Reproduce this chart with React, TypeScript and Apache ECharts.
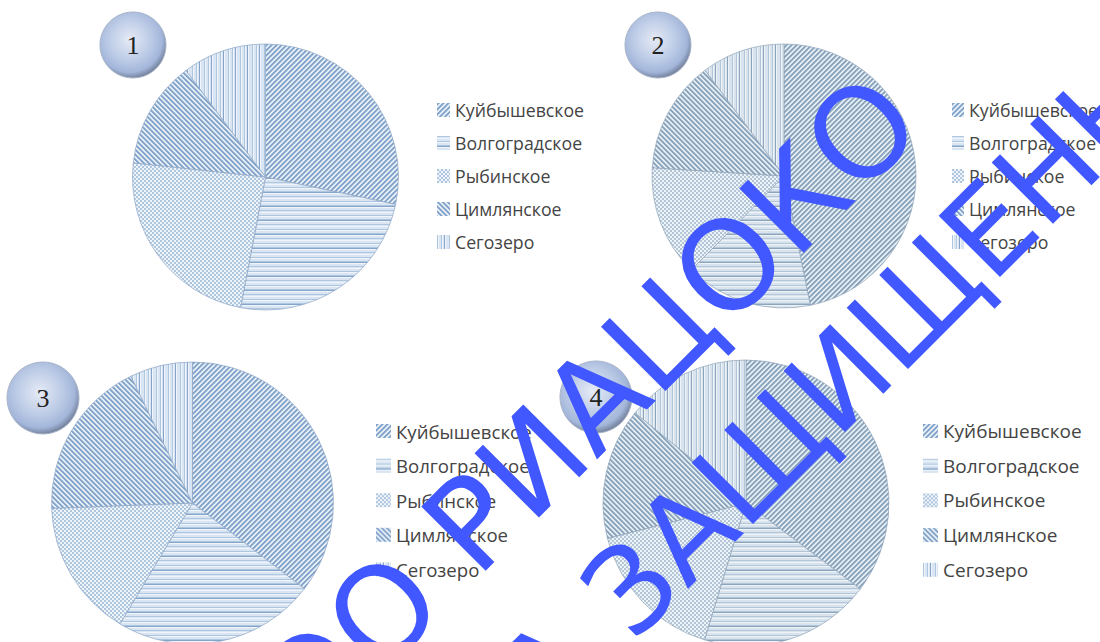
import React, { useEffect, useRef } from "react";
import * as echarts from "echarts";

const categories = ["Куйбышевское", "Волгоградское", "Рыбинское", "Цимлянское", "Сегозеро"];
const pie1Values = [28.3, 24.7, 23.7, 13.1, 10.2];
const pie2Values = [46.8, 15.6, 13.6, 13.8, 10.2];
const pie3Values = [35.4, 23.2, 15.8, 18.4, 7.2];
const pie4Values = [35.4, 19.5, 16.4, 14.9, 14.2];
const badgeLabels = ["1", "2", "3", "4"];
const watermarkLine1 = "ОО РИАЦОКО";
const watermarkLine2 = "А ЗАЩИЩЕНЫ";

type Pal = { dark: string; mid: string; base: string; light: string };
const bluePal: Pal = { dark: "#86a5ca", mid: "#afc6df", base: "#d9e5f2", light: "#f0f5fb" };
const greyPal: Pal = { dark: "#8ba5bc", mid: "#b2c6d8", base: "#d8e3ed", light: "#eef3f8" };

function tile(w: number, h: number, fn: (x: number, y: number) => string) {
  const c = document.createElement("canvas");
  c.width = w;
  c.height = h;
  const ctx = c.getContext("2d")!;
  for (let y = 0; y < h; y++) {
    for (let x = 0; x < w; x++) {
      ctx.fillStyle = fn(x, y);
      ctx.fillRect(x, y, 1, 1);
    }
  }
  return c;
}

function patterns(p: Pal) {
  const fwd = (x: number, y: number) => [p.dark, p.dark, p.mid, p.light, p.base][(x + y) % 5];
  const back = (x: number, y: number) => [p.dark, p.dark, p.mid, p.light, p.base][(x - y + 50) % 5];
  const horiz = [p.mid, p.base, p.light, p.base, p.base, p.mid, p.light, p.base, p.base, p.mid, p.dark, p.light, p.base, p.base];
  const vert = [p.mid, p.light, p.base, p.base, p.mid, p.light, p.base, p.dark, p.light, p.base, p.base, p.base];
  const sized = (c: HTMLCanvasElement) => ({ image: c, repeat: "repeat" as const });
  return [
    sized(tile(5, 5, fwd)),
    sized(tile(1, horiz.length, (_x, y) => horiz[y])),
    sized(tile(4, 4, (x, y) => ((x >> 1) + (y >> 1)) % 2 === 0 ? p.mid : p.light)),
    sized(tile(5, 5, back)),
    sized(tile(vert.length, 1, (x) => vert[x])),
  ];
}

const badgeFill = {
  type: "radial",
  x: 0.45,
  y: 0.42,
  r: 0.58,
  colorStops: [
    { offset: 0, color: "#e6ebf6" },
    { offset: 0.55, color: "#bccbe6" },
    { offset: 0.85, color: "#a3b6da" },
    { offset: 1, color: "#76849f" },
  ],
};

export default function App() {
  const ref = useRef<HTMLDivElement>(null);
  useEffect(() => {
    document.body.style.margin = "0";
    const chart = echarts.init(ref.current!, null, { renderer: "svg" });
    const blue = patterns(bluePal);
    const grey = patterns(greyPal);
    const mkSeries = (values: number[], center: number[], r: number, pats: any[], border: string) => ({
      type: "pie",
      center,
      radius: [0, r],
      startAngle: 90,
      clockwise: true,
      silent: true,
      label: { show: false },
      labelLine: { show: false },
      itemStyle: { borderColor: border, borderWidth: 0.7 },
      emphasis: { disabled: true },
      data: categories.map((name, i) => ({ name, value: values[i], itemStyle: { color: pats[i] } })),
    });
    const mkLegend = (left: number, top: number, gap: number, fontSize: number, itemWidth: number) => ({
      left,
      top,
      orient: "vertical",
      padding: 0,
      icon: "rect",
      itemWidth,
      itemHeight: 14,
      itemGap: gap,
      selectedMode: false,
      itemStyle: { borderWidth: 0 },
      data: categories,
      textStyle: { fontFamily: "Open Sans", fontSize, lineHeight: 20, color: "#444444" },
    });
    const badge = (cx: number, cy: number, r: number, text: string, size: number) => [
      { type: "circle", z: 20, shape: { cx, cy, r }, style: { fill: badgeFill, stroke: "#a8b4c8", lineWidth: 1 } },
      {
        type: "text",
        z: 21,
        x: cx,
        y: cy,
        style: {
          text,
          fill: "#222222",
          font: `${size}px "Liberation Serif"`,
          textAlign: "center",
          textVerticalAlign: "middle",
        },
      },
    ];
    const mark = (x: number, y: number, text: string, size: number) => ({
      type: "text",
      z: 50,
      x,
      y,
      rotation: Math.PI / 4,
      style: {
        text,
        fill: "#4157ff",
        font: `${size}px "DejaVu Sans"`,
        textAlign: "left",
        textVerticalAlign: "middle",
      },
    });
    chart.setOption({
      animation: false,
      backgroundColor: "#ffffff",
      legend: [
        mkLegend(437, 100, 13, 17.7, 13),
        mkLegend(952, 100, 13, 17.7, 12),
        mkLegend(376, 421, 14.6, 18.6, 15),
        mkLegend(923, 421, 14.7, 19, 15),
      ],
      series: [
        mkSeries(pie1Values, [265.5, 177], 133, blue, "#8ea6c6"),
        mkSeries(pie2Values, [784, 176], 132, grey, "#8fa3b8"),
        mkSeries(pie3Values, [192.5, 503], 141, blue, "#8ea6c6"),
        mkSeries(pie4Values, [746, 503], 143, grey, "#8fa3b8"),
      ],
      graphic: [
        ...badge(133, 45, 33, badgeLabels[0], 26),
        ...badge(658, 45, 33, badgeLabels[1], 26),
        ...badge(43, 398, 36, badgeLabels[2], 26),
        ...badge(596, 397, 36, badgeLabels[3], 26),
        mark(279, 716, watermarkLine1, 125),
        mark(520, 699, watermarkLine2, 119),
      ],
    });
    return () => chart.dispose();
  }, []);
  return <div ref={ref} style={{ width: 1100, height: 642 }} />;
}
